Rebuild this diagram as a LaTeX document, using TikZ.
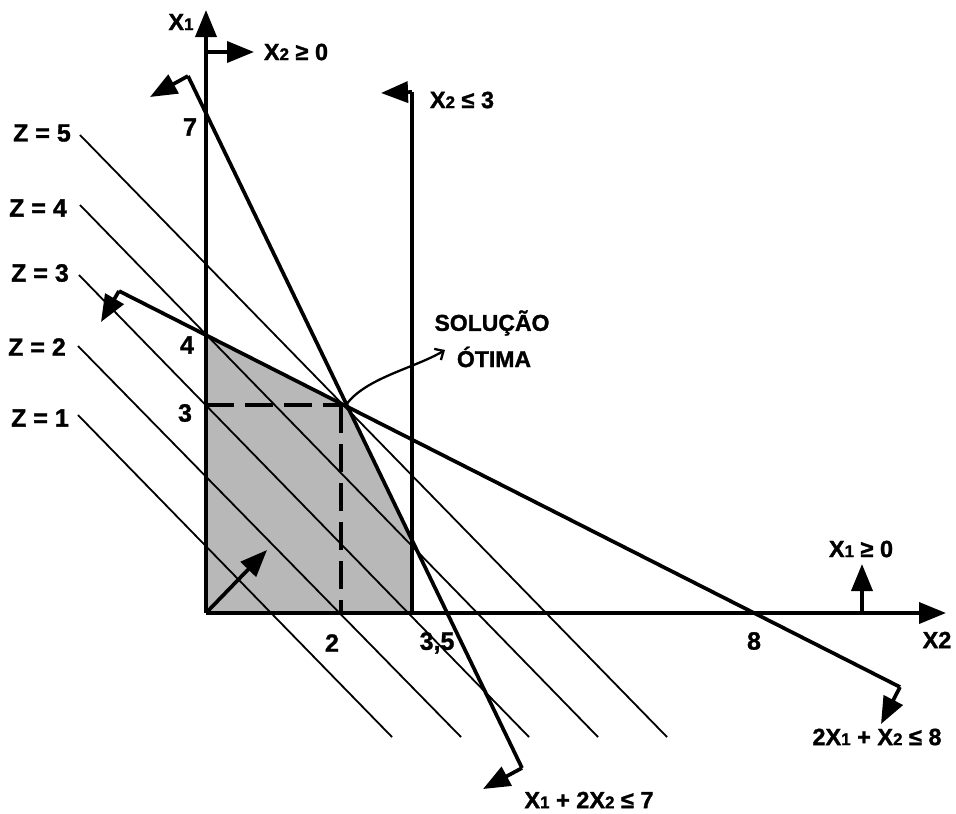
\documentclass[tikz,border=0pt]{standalone}
\usepackage{fontspec}
\setmainfont{Liberation Sans}[BoldFeatures={FakeBold=1.3}]
\usetikzlibrary{arrows.meta}
\newcommand{\Xs}[2][17]{X{\fontsize{#1}{#1}\selectfont #2}}
\begin{document}
\begin{tikzpicture}[x=1pt,y=-1pt,
  thickln/.style={line width=3.7pt},
  thinln/.style={line width=1.8pt},
  tipbig/.style={-{Triangle[length=27pt,width=21pt]}},
  lbl/.style={inner sep=0pt,font=\fontsize{23.5}{26}\selectfont\bfseries},
  numlbl/.style={inner sep=0pt,font=\fontsize{25}{28}\selectfont\bfseries},
  dashln/.style={line width=3.6pt,dash pattern=on 28pt off 11pt}]
\useasboundingbox (0,0) rectangle (956,814);
% key points
\coordinate (O) at (206,613);
\coordinate (Ytop) at (206,10);
\coordinate (Xend) at (946,613);
\coordinate (P4) at (206,335);
\coordinate (Opt) at (346,405);
\coordinate (Q) at (412,540);
\coordinate (R) at (412,613);
\coordinate (P3) at (206,405);
\coordinate (D2) at (341,613);
\coordinate (D2t) at (341,405);
% feasible region
\fill[black!28] (O) -- (P4) -- (Opt) -- (Q) -- (R) -- cycle;
% objective lines
\coordinate (z5a) at (80,135);  \coordinate (z5b) at (667,737);
\coordinate (z4a) at (80,205);  \coordinate (z4b) at (598,737);
\coordinate (z3a) at (79,275);  \coordinate (z3b) at (529,737);
\coordinate (z2a) at (78,346);  \coordinate (z2b) at (461,737);
\coordinate (z1a) at (78,415);  \coordinate (z1b) at (392,737);
\foreach \k in {1,...,5}{\draw[thinln] (z\k a) -- (z\k b);}
\node[numlbl] (Z5) at (42,133) {Z = 5};
\node[numlbl] (Z4) at (38,208) {Z = 4};
\node[numlbl] (Z3) at (40,273) {Z = 3};
\node[numlbl] (Z2) at (37,347) {Z = 2};
\node[numlbl] (Z1) at (40,418) {Z = 1};
% axes
\draw[thickln,tipbig] (O) -- (Ytop);
\draw[thickln,tipbig] (O) -- (Xend);
\node[lbl] (X1) at (181,22) {\Xs{1}};
\node[lbl] (X2) at (937,640) {X2};
\coordinate (nn1) at (206,52); \coordinate (nn2) at (254,52);
\draw[thickln,tipbig] (nn1) -- (nn2);
\node[lbl] (c1) at (296,52) {\Xs{2} ≥ 0};
\coordinate (mm1) at (862,613); \coordinate (mm2) at (862,564);
\draw[thickln,tipbig] (mm1) -- (mm2);
\node[lbl] (c2) at (861,549) {\Xs{1} ≥ 0};
% constraint x1 + 2x2 <= 7
\coordinate (a1) at (188,76); \coordinate (a1h) at (150,97);
\coordinate (a2) at (522,768); \coordinate (a2h) at (483,789);
\draw[thickln] (a1) -- (a2);
\draw[thickln,tipbig] (a1) -- (a1h);
\draw[thickln,tipbig] (a2) -- (a2h);
\node[lbl] (cA) at (589,800) {\Xs{1} + 2\Xs{2} ≤ 7};
% constraint 2x1 + x2 <= 8
\coordinate (b1) at (119,291); \coordinate (b1h) at (101,322);
\coordinate (b2) at (900,687); \coordinate (b2h) at (881,724);
\draw[thickln] (b1) -- (b2);
\draw[thickln,tipbig] (b1) -- (b1h);
\draw[thickln,tipbig] (b2) -- (b2h);
\node[lbl] (cB) at (877,737) {2\Xs{1} + \Xs{2} ≤ 8};
% constraint x2 <= 3
\coordinate (c3t) at (412,92); \coordinate (c3h) at (381,93);
\draw[thickln] (R) -- (c3t);
\draw[thickln,tipbig] (c3t) -- (c3h);
\node[lbl] (cC) at (462,100) {\Xs{2} ≤ 3};
% dashed guides
\draw[dashln] (P3) -- (Opt);
\draw[dashln] (D2t) -- (D2);
% gradient arrow
\coordinate (g) at (267,550);
\draw[thickln,tipbig] (O) -- (g);
% tick labels
\node[numlbl] (t7) at (190,127) {7};
\node[numlbl] (t4) at (187,345) {4};
\node[numlbl] (t3) at (185,413) {3};
\node[numlbl] (t2) at (332,643) {2};
\node[numlbl] (t35) at (437,643) {3,5};
\node[numlbl] (t8) at (754,641) {8};
% optimal solution annotation
\node[lbl,font=\fontsize{23}{25}\selectfont\bfseries] (sol) at (492,323) {SOLUÇÃO};
\node[lbl,font=\fontsize{23}{25}\selectfont\bfseries] (oti) at (494,357) {ÓTIMA};
\coordinate (ct) at (445,350);
\draw[line width=2.3pt,-{Straight Barb[length=7pt,width=13pt]}] (Opt) .. controls (365,378) and (415,368) .. (ct);
\end{tikzpicture}
\end{document}
